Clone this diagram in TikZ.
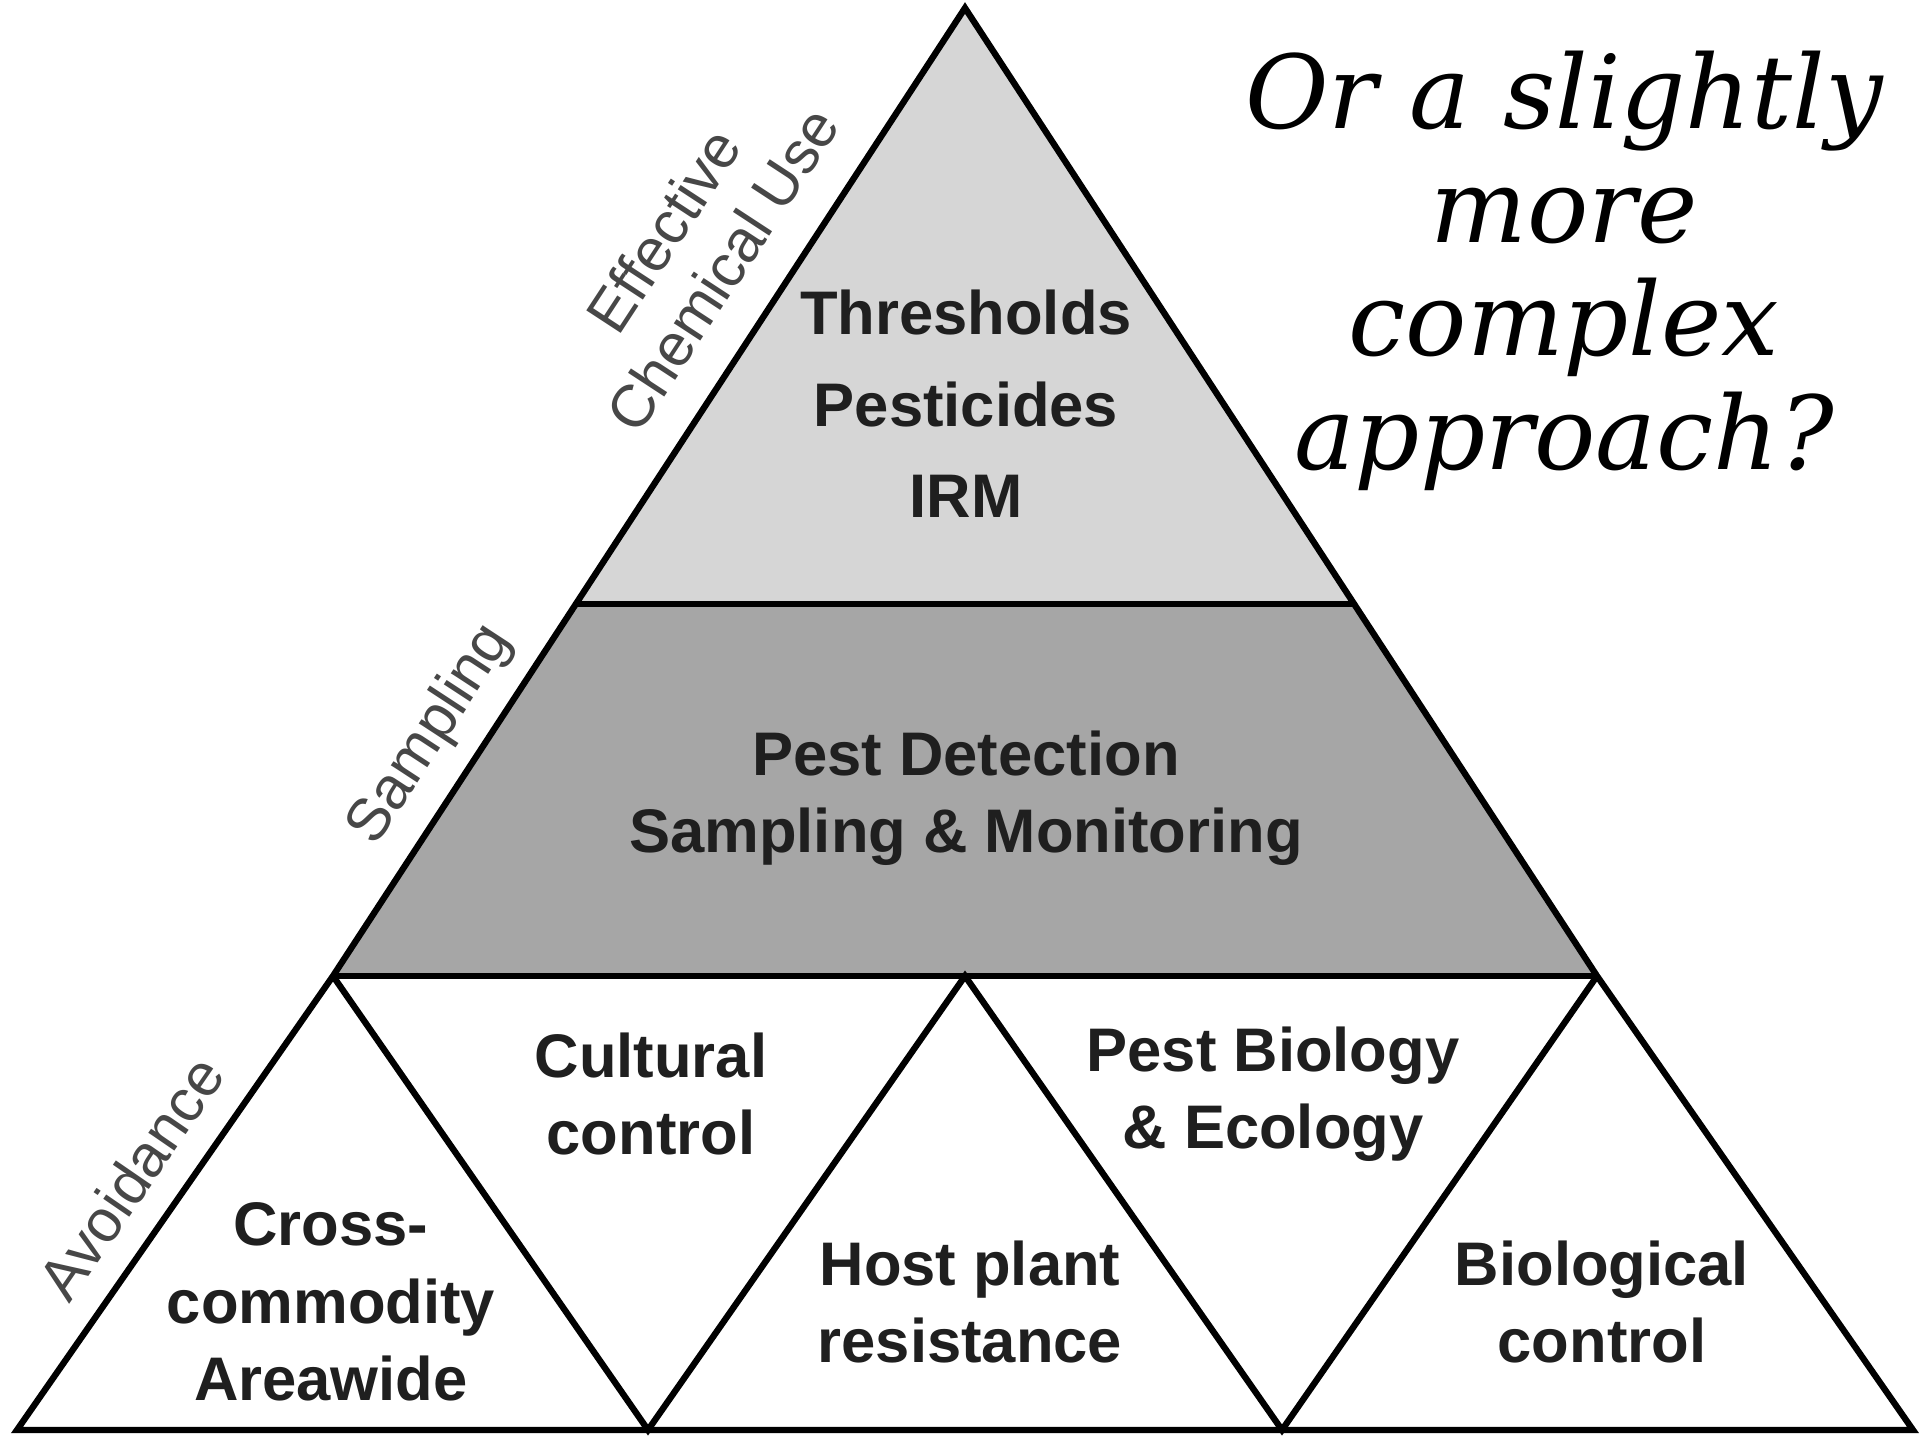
\documentclass[tikz,border=0pt]{standalone}
\usepackage{fontspec}
\setmainfont{Liberation Sans}
\newfontfamily\handfont{DejaVu Serif}
\usetikzlibrary{calc}

\tikzset{
  band/.style={draw=black, line width=1.8pt, line join=miter},
  lbl/.style={font=\bfseries\fontsize{17.5}{22}\selectfont, align=center, text=black!88},
  side/.style={font=\fontsize{17}{20}\selectfont, align=center, text=black!72},
}

\begin{document}
\begin{tikzpicture}[x=0.01cm, y=-0.01cm]
\useasboundingbox (0,0) rectangle (1920,1440);
% corners of the pyramid
\coordinate (top) at (965,8);
\coordinate (l2a) at (333,976);
\coordinate (l2m) at (965,976);
\coordinate (l2b) at (1597,976);
\coordinate (l1a) at ($(top)!0.616!(l2a)$);
\coordinate (l1b) at ($(top)!0.616!(l2b)$);
\coordinate (ba) at (17,1430);
\coordinate (bm1) at (648,1430);
\coordinate (bm2) at (1282,1430);
\coordinate (bb) at (1913,1430);

% shaded layers
\fill[gray!32] (top) -- (l1a) -- (l1b) -- cycle;
\fill[gray!70] (l1a) -- (l2a) -- (l2b) -- (l1b) -- cycle;
% outline and dividers
\draw[band] (top) -- (l2a) -- (ba) -- (bb) -- (l2b) -- cycle;
\draw[band] (l1a) -- (l1b);
\draw[band] (l2a) -- (l2b);
\draw[band] (l2a) -- (bm1) -- (l2m) -- (bm2) -- (l2b);

% layer texts
\node[lbl, font=\bfseries\fontsize{17.5}{26}\selectfont] (chem) at (966,404) {Thresholds\\Pesticides\\IRM};
\node[lbl] (detect) at (966,798) {Pest Detection\\Sampling \& Monitoring};
\node[lbl] (cult) at (651,1094) {Cultural\\control};
\node[lbl] (eco) at (1273,1094) {Pest Biology\\\& Ecology};
\node[lbl] (cross) at (331,1302) {Cross-\\commodity\\Areawide};
\node[lbl] (host) at (970,1302) {Host plant\\resistance};
\node[lbl] (bio) at (1602,1302) {Biological\\control};

% names along the left side
\node[side, rotate=56.8] (use) at (693,250) {Effective\\Chemical Use};
\node[side, rotate=56.8] (samp) at (431,735) {Sampling};
\node[side, rotate=55.5] (avoid) at (131,1178) {Avoidance};

% question on the right
\node[font=\handfont\itshape\fontsize{29}{32.3}\selectfont, align=center] (ask) at (1564,271) {Or a slightly\\more\\complex\\approach?};
\end{tikzpicture}
\end{document}
